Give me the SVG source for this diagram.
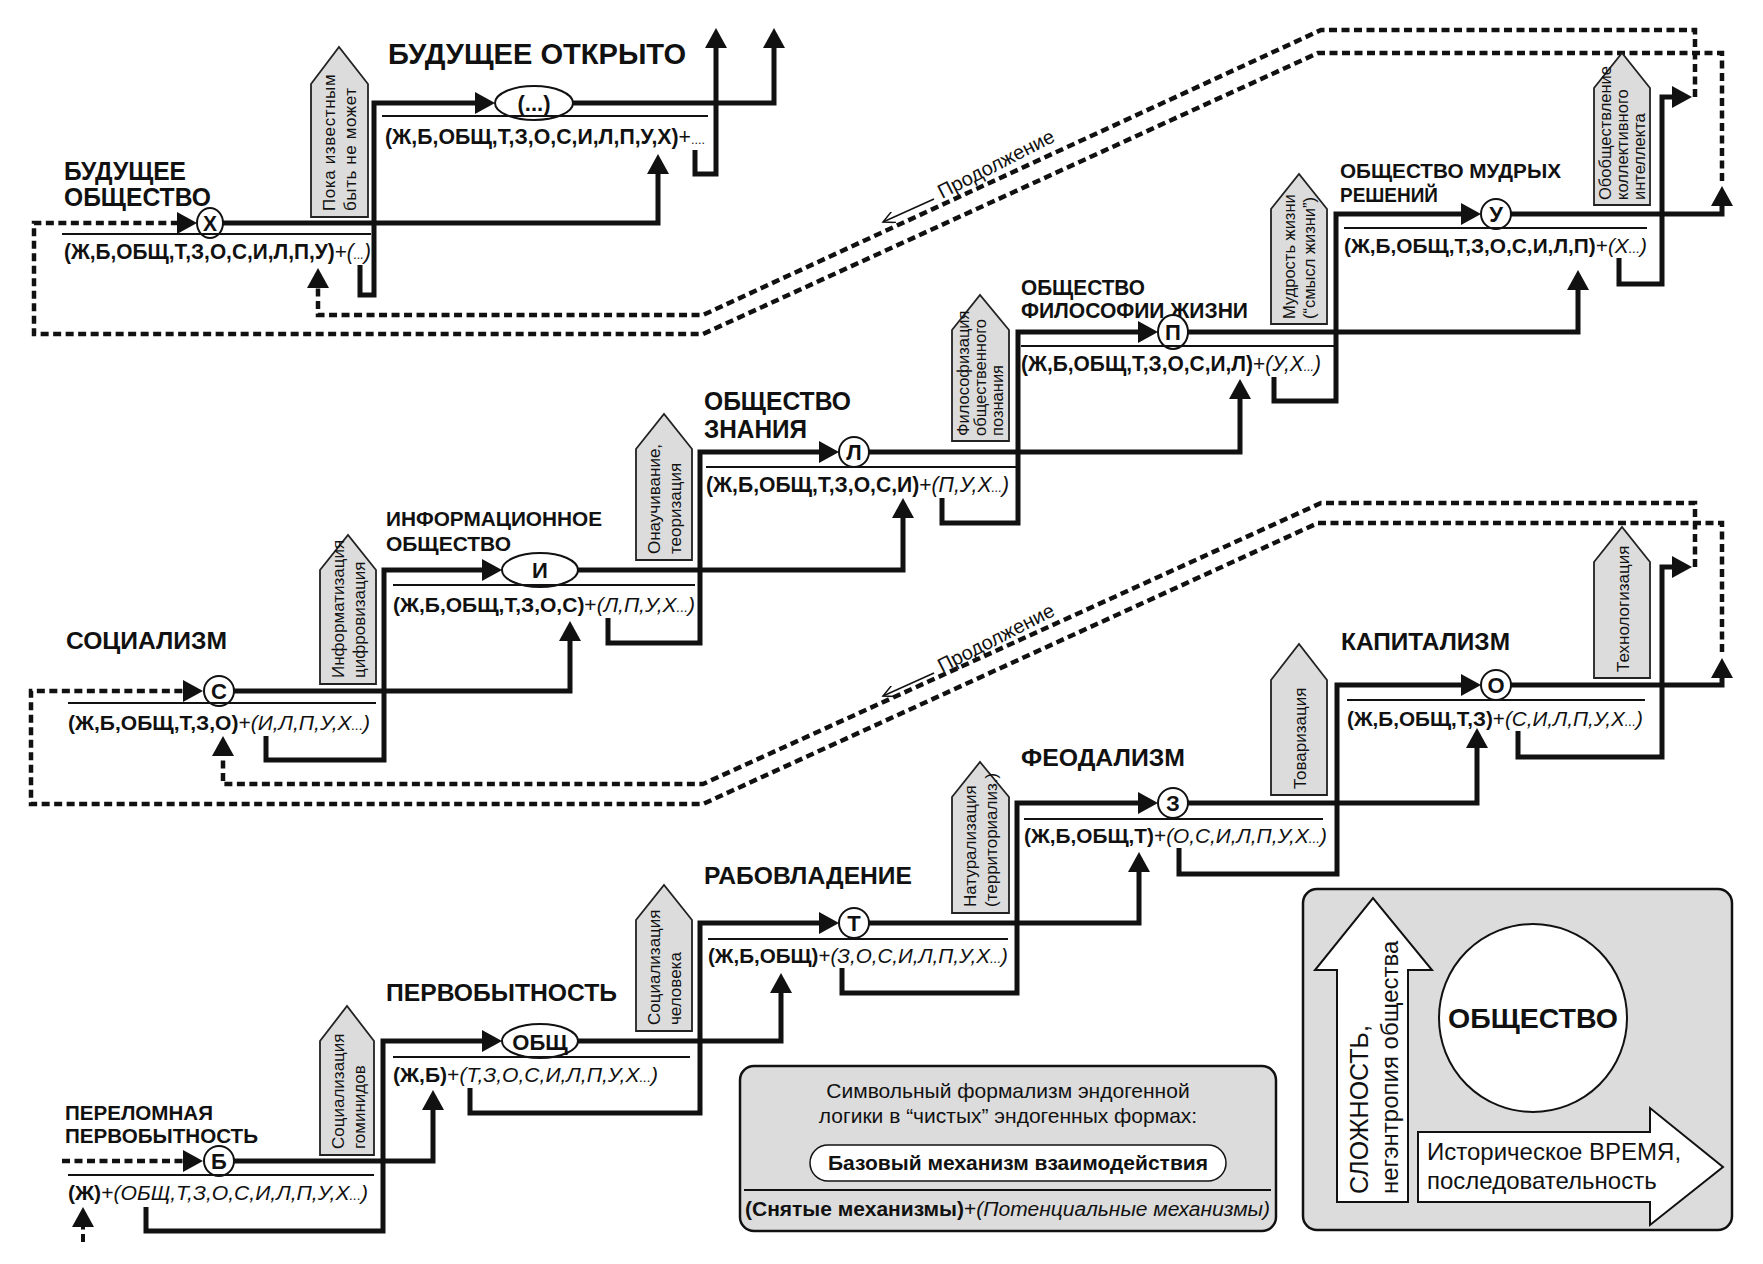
<svg xmlns="http://www.w3.org/2000/svg" width="1763" height="1264" viewBox="0 0 1763 1264">
<defs>
<style>
.ln{fill:none;stroke:#111;stroke-width:5}
.dl{fill:none;stroke:#111;stroke-width:4.5;stroke-dasharray:8 4.5}
.bar{stroke:#111;stroke-width:2}
.nd{fill:#fff;stroke:#111;stroke-width:2}
.tag{fill:#dcdcdc;stroke:#222;stroke-width:1.8}
.t{font-family:"Liberation Sans",Arial,sans-serif;fill:#111}
.b{font-weight:bold}
.i{font-style:italic;font-weight:normal}
.fm{font-size:20px}
.fc{font-size:22px}
.nl{font-size:22px;font-weight:bold;text-anchor:middle}
.lb{font-weight:bold;font-size:24px}
.tg{font-size:17px}
.tg3{font-size:16.5px}
.dots{font-size:13px}
</style>
<marker id="ah" markerUnits="userSpaceOnUse" markerWidth="22" markerHeight="22" refX="10" refY="11" orient="auto" viewBox="0 0 22 22"><path d="M0,0 L20,11 L0,22 z" fill="#111"/></marker>
<marker id="oa" markerUnits="userSpaceOnUse" markerWidth="14" markerHeight="12" refX="12" refY="6" orient="auto" viewBox="0 0 14 12"><path d="M0,0 L12,6 L0,12" fill="none" stroke="#111" stroke-width="1.5"/></marker>
</defs>
<rect width="1763" height="1264" fill="#fff"/>

<g id="connectors">
<!-- lower staircase -->
<path class="dl" d="M62,1161 H193" marker-end="url(#ah)"/>
<path class="dl" d="M83,1242 V1217" marker-end="url(#ah)" style="stroke-width:4"/>
<path class="ln" d="M234,1161 H433 V1100" marker-end="url(#ah)"/>
<path class="ln" d="M146,1207 V1231 H383 V1041 H492" marker-end="url(#ah)"/>
<path class="ln" d="M577,1041 H781 V983" marker-end="url(#ah)"/>
<path class="ln" d="M470,1088 V1113 H700 V923 H829" marker-end="url(#ah)"/>
<path class="ln" d="M869,923 H1139 V862" marker-end="url(#ah)"/>
<path class="ln" d="M842,968 V993 H1017 V803 H1148" marker-end="url(#ah)"/>
<path class="ln" d="M1188,803 H1477 V738" marker-end="url(#ah)"/>
<path class="ln" d="M1179,848 V874 H1337 V685 H1471" marker-end="url(#ah)"/>
<path class="ln" d="M1511,685 H1722 V668" marker-end="url(#ah)"/>
<path class="dl" d="M1722,652 V523 H1318 L703,804 H31 V691 H193" marker-end="url(#ah)"/>
<path class="ln" d="M1518,731 V757 H1662 V567 H1682" marker-end="url(#ah)"/>
<path class="dl" d="M1695,567 V503 H1321 L703,784 H223 V746" marker-end="url(#ah)"/>
<!-- upper staircase -->
<path class="ln" d="M234,691 H570 V631" marker-end="url(#ah)"/>
<path class="ln" d="M266,736 V760 H384 V570 H492" marker-end="url(#ah)"/>
<path class="ln" d="M578,570 H903 V508" marker-end="url(#ah)"/>
<path class="ln" d="M608,618 V643 H700 V452 H829" marker-end="url(#ah)"/>
<path class="ln" d="M869,452 H1240 V389" marker-end="url(#ah)"/>
<path class="ln" d="M942,498 V523 H1018 V332 H1148" marker-end="url(#ah)"/>
<path class="ln" d="M1188,332 H1578 V280" marker-end="url(#ah)"/>
<path class="ln" d="M1274,377 V401 H1336 V214 H1471" marker-end="url(#ah)"/>
<path class="ln" d="M1511,214 H1722 V196" marker-end="url(#ah)"/>
<path class="dl" d="M1722,181 V53 H1318 L703,334 H34 V223 H187" marker-end="url(#ah)"/>
<path class="ln" d="M1619,258 V284 H1662 V97 H1682" marker-end="url(#ah)"/>
<path class="dl" d="M1695,97 V30 H1321 L703,315 H318 V278" marker-end="url(#ah)"/>
<!-- top -->
<path class="ln" d="M223,223 H658 V164" marker-end="url(#ah)"/>
<path class="ln" d="M360,265 V295 H374 V103 H485" marker-end="url(#ah)"/>
<path class="ln" d="M573,103 H774 V38" marker-end="url(#ah)"/>
<path class="ln" d="M695,150 V174 H716 V38" marker-end="url(#ah)"/>
<!-- continuation labels -->
<line x1="934" y1="673" x2="883" y2="696" stroke="#111" stroke-width="1.5" marker-end="url(#oa)"/>
<text class="t" x="942" y="673" font-size="20" transform="rotate(-27 942 673)">Продолжение</text>
<line x1="934" y1="199" x2="883" y2="222" stroke="#111" stroke-width="1.5" marker-end="url(#oa)"/>
<text class="t" x="942" y="199" font-size="20" transform="rotate(-27 942 199)">Продолжение</text>
</g>

<!-- tags -->
<g id="tag-gominidy">
<polygon class="tag" points="320,1155 320,1041 347,1006 374,1041 374,1155"/>
<text class="t tg" x="344" y="1149" transform="rotate(-90 344 1149)">Социализация</text>
<text class="t tg" x="365" y="1149" transform="rotate(-90 365 1149)">гоминидов</text>
</g>
<g id="tag-chelovek">
<polygon class="tag" points="636,1031 636,920 664,885 692,920 692,1031"/>
<text class="t tg" x="660" y="1025" transform="rotate(-90 660 1025)">Социализация</text>
<text class="t tg" x="681" y="1025" transform="rotate(-90 681 1025)">человека</text>
</g>
<g id="tag-natural">
<polygon class="tag" points="952,913 952,797 980,762 1009,797 1009,913"/>
<text class="t tg" x="976" y="907" transform="rotate(-90 976 907)">Натурализация</text>
<text class="t tg" x="997" y="907" transform="rotate(-90 997 907)">(территориализ.)</text>
</g>
<g id="tag-tovar">
<polygon class="tag" points="1271,795 1271,680 1299,644 1327,680 1327,795"/>
<text class="t tg" x="1306" y="789" transform="rotate(-90 1306 789)">Товаризация</text>
</g>
<g id="tag-tehno">
<polygon class="tag" points="1594,678 1594,562 1622,527 1650,562 1650,678"/>
<text class="t tg" x="1629" y="672" transform="rotate(-90 1629 672)">Технологизация</text>
</g>
<g id="tag-inform">
<polygon class="tag" points="320,684 320,570 348,535 376,570 376,684"/>
<text class="t tg" x="344" y="678" transform="rotate(-90 344 678)">Информатизация</text>
<text class="t tg" x="365" y="678" transform="rotate(-90 365 678)">цифровизация</text>
</g>
<g id="tag-nauka">
<polygon class="tag" points="636,560 636,449 664,414 692,449 692,560"/>
<text class="t tg" x="660" y="554" transform="rotate(-90 660 554)">Онаучивание,</text>
<text class="t tg" x="681" y="554" transform="rotate(-90 681 554)">теоризация</text>
</g>
<g id="tag-filosof">
<polygon class="tag" points="952,441 952,330 980,295 1009,330 1009,441"/>
<text class="t tg3" x="969" y="436" transform="rotate(-90 969 436)">Философизация</text>
<text class="t tg3" x="986" y="436" transform="rotate(-90 986 436)">общественного</text>
<text class="t tg3" x="1003" y="436" transform="rotate(-90 1003 436)">познания</text>
</g>
<g id="tag-mudrost">
<polygon class="tag" points="1271,324 1271,209 1299,174 1327,209 1327,324"/>
<text class="t tg3" x="1295" y="319" transform="rotate(-90 1295 319)">Мудрость жизни</text>
<text class="t tg3" x="1315" y="319" transform="rotate(-90 1315 319)">(“смысл жизни”)</text>
</g>
<g id="tag-obobsch">
<polygon class="tag" points="1594,205 1594,88 1622,53 1650,88 1650,205"/>
<text class="t tg3" x="1611" y="200" transform="rotate(-90 1611 200)">Обобществление</text>
<text class="t tg3" x="1628" y="200" transform="rotate(-90 1628 200)">коллективного</text>
<text class="t tg3" x="1645" y="200" transform="rotate(-90 1645 200)">интеллекта</text>
</g>
<g id="tag-poka">
<polygon class="tag" points="311,217 311,84 339,47 368,84 368,217"/>
<text class="t tg" x="335" y="211" transform="rotate(-90 335 211)" letter-spacing="0.6">Пока известным</text>
<text class="t tg" x="356" y="211" transform="rotate(-90 356 211)" letter-spacing="0.6">быть не может</text>
</g>

<!-- nodes lower -->
<g id="node-B">
<text class="t b" font-size="21" x="65" y="1120" textLength="148" lengthAdjust="spacingAndGlyphs">ПЕРЕЛОМНАЯ</text>
<text class="t b" font-size="21" x="65" y="1143" textLength="193" lengthAdjust="spacingAndGlyphs">ПЕРВОБЫТНОСТЬ</text>
<circle class="nd" cx="219" cy="1161" r="15"/>
<text class="t nl" x="219" y="1169">Б</text>
<line class="bar" x1="68" y1="1175" x2="374" y2="1175"/>
<text class="t fm" x="68" y="1200" textLength="300" lengthAdjust="spacingAndGlyphs"><tspan class="b">(Ж)</tspan>+<tspan class="i">(ОБЩ,Т,З,О,С,И,Л,П,У,Х<tspan class="dots">...</tspan>)</tspan></text>
</g>
<g id="node-OBSCH">
<text class="t lb" x="386" y="1001" textLength="231" lengthAdjust="spacingAndGlyphs">ПЕРВОБЫТНОСТЬ</text>
<ellipse class="nd" cx="540" cy="1041" rx="38" ry="17"/>
<text class="t nl" font-size="24" x="540" y="1050">ОБЩ</text>
<line class="bar" x1="393" y1="1057" x2="690" y2="1057"/>
<text class="t fm" x="393" y="1082" textLength="265" lengthAdjust="spacingAndGlyphs"><tspan class="b">(Ж,Б)</tspan>+<tspan class="i">(Т,З,О,С,И,Л,П,У,Х<tspan class="dots">...</tspan>)</tspan></text>
</g>
<g id="node-T">
<text class="t lb" x="704" y="884" textLength="208" lengthAdjust="spacingAndGlyphs">РАБОВЛАДЕНИЕ</text>
<circle class="nd" cx="854" cy="923" r="15"/>
<text class="t nl" x="854" y="931">Т</text>
<line class="bar" x1="708" y1="939" x2="1008" y2="939"/>
<text class="t fm" x="708" y="963" textLength="300" lengthAdjust="spacingAndGlyphs"><tspan class="b">(Ж,Б,ОБЩ)</tspan>+<tspan class="i">(З,О,С,И,Л,П,У,Х<tspan class="dots">...</tspan>)</tspan></text>
</g>
<g id="node-Z">
<text class="t lb" x="1021" y="766" textLength="164" lengthAdjust="spacingAndGlyphs">ФЕОДАЛИЗМ</text>
<circle class="nd" cx="1173" cy="803" r="15"/>
<text class="t nl" x="1173" y="811">З</text>
<line class="bar" x1="1024" y1="819" x2="1323" y2="819"/>
<text class="t fm" x="1024" y="843" textLength="303" lengthAdjust="spacingAndGlyphs"><tspan class="b">(Ж,Б,ОБЩ,Т)</tspan>+<tspan class="i">(О,С,И,Л,П,У,Х<tspan class="dots">...</tspan>)</tspan></text>
</g>
<g id="node-O">
<text class="t lb" x="1341" y="650" textLength="169" lengthAdjust="spacingAndGlyphs">КАПИТАЛИЗМ</text>
<circle class="nd" cx="1496" cy="685" r="15"/>
<text class="t nl" x="1496" y="693">О</text>
<line class="bar" x1="1347" y1="700" x2="1645" y2="700"/>
<text class="t fm" x="1347" y="726" textLength="296" lengthAdjust="spacingAndGlyphs"><tspan class="b">(Ж,Б,ОБЩ,Т,З)</tspan>+<tspan class="i">(С,И,Л,П,У,Х<tspan class="dots">...</tspan>)</tspan></text>
</g>

<!-- nodes upper -->
<g id="node-S">
<text class="t lb" x="66" y="649" textLength="161" lengthAdjust="spacingAndGlyphs">СОЦИАЛИЗМ</text>
<circle class="nd" cx="219" cy="691" r="15"/>
<text class="t nl" x="219" y="699">С</text>
<line class="bar" x1="68" y1="703" x2="376" y2="703"/>
<text class="t fm" x="68" y="730" textLength="302" lengthAdjust="spacingAndGlyphs"><tspan class="b">(Ж,Б,ОБЩ,Т,З,О)</tspan>+<tspan class="i">(И,Л,П,У,Х<tspan class="dots">...</tspan>)</tspan></text>
</g>
<g id="node-I">
<text class="t b" font-size="20" x="386" y="526" textLength="216" lengthAdjust="spacingAndGlyphs">ИНФОРМАЦИОННОЕ</text>
<text class="t b" font-size="20" x="386" y="551" textLength="125" lengthAdjust="spacingAndGlyphs">ОБЩЕСТВО</text>
<ellipse class="nd" cx="540" cy="570" rx="38" ry="17"/>
<text class="t nl" x="540" y="578">И</text>
<line class="bar" x1="393" y1="585" x2="695" y2="585"/>
<text class="t fm" x="393" y="612" textLength="302" lengthAdjust="spacingAndGlyphs"><tspan class="b">(Ж,Б,ОБЩ,Т,З,О,С)</tspan>+<tspan class="i">(Л,П,У,Х<tspan class="dots">...</tspan>)</tspan></text>
</g>
<g id="node-L">
<text class="t b" font-size="26" x="704" y="410" textLength="147" lengthAdjust="spacingAndGlyphs">ОБЩЕСТВО</text>
<text class="t b" font-size="26" x="704" y="438" textLength="103" lengthAdjust="spacingAndGlyphs">ЗНАНИЯ</text>
<circle class="nd" cx="854" cy="452" r="15"/>
<text class="t nl" x="854" y="460">Л</text>
<line class="bar" x1="706" y1="467" x2="1017" y2="467"/>
<text class="t fc" x="706" y="492" textLength="303" lengthAdjust="spacingAndGlyphs"><tspan class="b">(Ж,Б,ОБЩ,Т,З,О,С,И)</tspan>+<tspan class="i">(П,У,Х<tspan class="dots">...</tspan>)</tspan></text>
</g>
<g id="node-P">
<text class="t b" font-size="22" x="1021" y="295" textLength="124" lengthAdjust="spacingAndGlyphs">ОБЩЕСТВО</text>
<text class="t b" font-size="22" x="1021" y="318" textLength="227" lengthAdjust="spacingAndGlyphs">ФИЛОСОФИИ ЖИЗНИ</text>
<ellipse class="nd" cx="1173" cy="332" rx="15" ry="17"/>
<text class="t nl" x="1173" y="340">П</text>
<line class="bar" x1="1021" y1="346" x2="1336" y2="346"/>
<text class="t fc" x="1021" y="371" textLength="300" lengthAdjust="spacingAndGlyphs"><tspan class="b">(Ж,Б,ОБЩ,Т,З,О,С,И,Л)</tspan>+<tspan class="i">(У,Х<tspan class="dots">...</tspan>)</tspan></text>
</g>
<g id="node-U">
<text class="t b" font-size="20" x="1340" y="178" textLength="221" lengthAdjust="spacingAndGlyphs">ОБЩЕСТВО МУДРЫХ</text>
<text class="t b" font-size="20" x="1340" y="202" textLength="98" lengthAdjust="spacingAndGlyphs">РЕШЕНИЙ</text>
<circle class="nd" cx="1496" cy="214" r="15"/>
<text class="t nl" x="1496" y="222">У</text>
<line class="bar" x1="1344" y1="228" x2="1647" y2="228"/>
<text class="t fm" x="1344" y="253" textLength="303" lengthAdjust="spacingAndGlyphs"><tspan class="b">(Ж,Б,ОБЩ,Т,З,О,С,И,Л,П)</tspan>+<tspan class="i">(Х<tspan class="dots">...</tspan>)</tspan></text>
</g>

<!-- top -->
<g id="node-X">
<text class="t b" font-size="26" x="64" y="180" textLength="122" lengthAdjust="spacingAndGlyphs">БУДУЩЕЕ</text>
<text class="t b" font-size="26" x="64" y="206" textLength="147" lengthAdjust="spacingAndGlyphs">ОБЩЕСТВО</text>
<ellipse class="nd" cx="210" cy="223" rx="13" ry="15"/>
<text class="t nl" x="210" y="231" textLength="14" lengthAdjust="spacingAndGlyphs">Х</text>
<line class="bar" x1="62" y1="234" x2="371" y2="234"/>
<text class="t fc" x="64" y="259" textLength="307" lengthAdjust="spacingAndGlyphs"><tspan class="b">(Ж,Б,ОБЩ,Т,З,О,С,И,Л,П,У)</tspan>+<tspan class="i">(<tspan class="dots">...</tspan>)</tspan></text>
</g>
<g id="node-open">
<text class="t b" font-size="29" x="388" y="64" textLength="298" lengthAdjust="spacingAndGlyphs">БУДУЩЕЕ ОТКРЫТО</text>
<ellipse class="nd" cx="534" cy="103" rx="39" ry="17"/>
<text class="t nl" font-size="24" x="534" y="111">(...)</text>
<line class="bar" x1="382" y1="116" x2="708" y2="116"/>
<text class="t fc" x="385" y="144" textLength="320" lengthAdjust="spacingAndGlyphs"><tspan class="b">(Ж,Б,ОБЩ,Т,З,О,С,И,Л,П,У,Х)</tspan>+<tspan class="dots">....</tspan></text>
</g>

<!-- legend 1 -->
<g id="legend-formalism">
<rect x="740" y="1066" width="536" height="165" rx="14" fill="#dcdcdc" stroke="#111" stroke-width="2.5"/>
<text class="t" font-size="21" x="1008" y="1098" text-anchor="middle">Символьный формализм эндогенной</text>
<text class="t" font-size="21" x="1008" y="1123" text-anchor="middle">логики в “чистых” эндогенных формах:</text>
<rect x="810" y="1145" width="416" height="36" rx="18" fill="#fff" stroke="#111" stroke-width="1.5"/>
<text class="t b" font-size="21" x="1018" y="1170" text-anchor="middle">Базовый механизм взаимодействия</text>
<line class="bar" x1="744" y1="1190" x2="1271" y2="1190"/>
<text class="t" font-size="20" x="745" y="1216" textLength="525" lengthAdjust="spacingAndGlyphs"><tspan class="b">(Снятые механизмы)</tspan>+<tspan class="i">(Потенциальные механизмы)</tspan></text>
</g>

<!-- legend 2 -->
<g id="legend-society">
<rect x="1303" y="889" width="429" height="341" rx="14" fill="#dcdcdc" stroke="#111" stroke-width="2.5"/>
<polygon points="1337,1202 1337,970 1315,970 1373,898 1432,970 1408,970 1408,1202" fill="#fff" stroke="#111" stroke-width="2"/>
<text class="t" font-size="25" x="1368" y="1194" transform="rotate(-90 1368 1194)">СЛОЖНОСТЬ,</text>
<text class="t" font-size="24" x="1398" y="1194" transform="rotate(-90 1398 1194)">негэнтропия общества</text>
<circle cx="1533" cy="1018" r="94" fill="#fff" stroke="#111" stroke-width="2"/>
<text class="t b" font-size="28" x="1533" y="1028" text-anchor="middle" textLength="170" lengthAdjust="spacingAndGlyphs">ОБЩЕСТВО</text>
<polygon points="1418,1132 1650,1132 1650,1108 1723,1167 1650,1225 1650,1202 1418,1202" fill="#fff" stroke="#111" stroke-width="2"/>
<text class="t" font-size="24" x="1427" y="1160">Историческое ВРЕМЯ,</text>
<text class="t" font-size="24" x="1427" y="1189">последовательность</text>
</g>
</svg>
